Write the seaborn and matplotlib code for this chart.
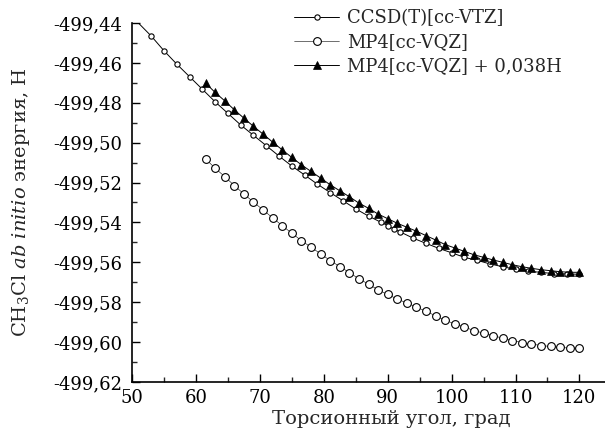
import matplotlib
matplotlib.use("Agg")
import matplotlib.pyplot as plt
from matplotlib.ticker import MultipleLocator, FuncFormatter
import seaborn as sns
import pandas as pd

# CCSD(T)[cc-VTZ]
ccsd_x = [50, 51, 53, 55, 57, 59, 61, 63, 65, 67, 69, 71, 73, 75, 77, 79, 81, 83, 85, 87, 89,
          90, 91, 92, 94, 96, 98, 100, 102, 104, 106, 108, 110, 112, 114, 116, 118, 120]
ccsd_y = [-499.4400, -499.4400, -499.4465, -499.4539, -499.4606, -499.4669, -499.4732, -499.4795,
          -499.4853, -499.4911, -499.4963, -499.5015, -499.5067, -499.5117, -499.5162, -499.5208,
          -499.5250, -499.5291, -499.5332, -499.5368, -499.5400, -499.5416, -499.5434, -499.5448,
          -499.5479, -499.5505, -499.5530, -499.5552, -499.5575, -499.5590, -499.5608, -499.5622,
          -499.5635, -499.5645, -499.5650, -499.5657, -499.5658, -499.5660]

# MP4[cc-VQZ]
mp4_x = [61.5 + 1.5 * i for i in range(40)]
mp4_y = [-499.5081, -499.5128, -499.5170, -499.5215, -499.5257, -499.5298, -499.5337, -499.5377,
         -499.5416, -499.5454, -499.5491, -499.5524, -499.5557, -499.5591, -499.5621, -499.5651,
         -499.5683, -499.5709, -499.5738, -499.5761, -499.5784, -499.5804, -499.5824, -499.5846,
         -499.5868, -499.5891, -499.5908, -499.5925, -499.5942, -499.5955, -499.5968, -499.5980,
         -499.5992, -499.6002, -499.6010, -499.6017, -499.6022, -499.6027, -499.6030, -499.6030]

shift = 0.038
mp4_shift_y = [v + shift for v in mp4_y]

labels = ["CCSD(T)[cc-VTZ]", "MP4[cc-VQZ]", "MP4[cc-VQZ] + 0,038H"]

sns.set_style("ticks")
plt.rcParams["font.family"] = ["DejaVu Serif"]
plt.rcParams["mathtext.fontset"] = "dejavuserif"
plt.rcParams["axes.unicode_minus"] = False

fig = plt.figure(figsize=(6.05, 4.36), dpi=100)
ax = fig.add_axes([132 / 605, 1 - 382 / 436, 1 - 132 / 605, (382 - 23) / 436])

df_ccsd = pd.DataFrame({"x": ccsd_x, "y": ccsd_y})
df_mp4 = pd.DataFrame({"x": mp4_x, "y": mp4_y})
df_shift = pd.DataFrame({"x": mp4_x, "y": mp4_shift_y})

sns.lineplot(data=df_ccsd, x="x", y="y", ax=ax, color="black", lw=0.7,
             marker="o", markersize=3.8, markerfacecolor="white", markeredgecolor="black",
             markeredgewidth=0.8, markevery=slice(2, None), label=labels[0])
sns.lineplot(data=df_mp4, x="x", y="y", ax=ax, color="black", lw=0.4,
             marker="o", markersize=5.6, markerfacecolor="white", markeredgecolor="black",
             markeredgewidth=0.8, label=labels[1])
sns.lineplot(data=df_shift, x="x", y="y", ax=ax, color="black", lw=0.7,
             marker="^", markersize=5.6, markerfacecolor="black", markeredgecolor="black",
             markeredgewidth=0.5, label=labels[2])

ax.set_xlim(50, 124)
ax.set_ylim(-499.62, -499.44)
ax.xaxis.set_major_locator(MultipleLocator(10))
ax.xaxis.set_minor_locator(MultipleLocator(5))
ax.yaxis.set_major_locator(MultipleLocator(0.02))
ax.yaxis.set_minor_locator(MultipleLocator(0.01))
ax.yaxis.set_major_formatter(FuncFormatter(lambda v, p: f"{v:.2f}".replace(".", ",")))
ax.set_xticks([50, 60, 70, 80, 90, 100, 110, 120])

ax.tick_params(which="major", direction="in", length=6, width=1.0, labelsize=13, colors="black")
ax.tick_params(which="minor", direction="in", length=3.5, width=1.0)
ax.tick_params(axis="x", pad=5)
ax.tick_params(axis="y", pad=7)

for side in ["top", "right"]:
    ax.spines[side].set_visible(False)
for side in ["left", "bottom"]:
    ax.spines[side].set_linewidth(1.2)
    ax.spines[side].set_color("black")

ax.set_xlabel("Торсионный угол, град", fontsize=14, va="center")
ax.xaxis.set_label_coords((391 - 132) / 473, -(419 - 382) / 359)
ax.set_ylabel("CH$_3$Cl $\\it{ab\\ initio}$ энергия, H", fontsize=14, va="center")
ax.yaxis.set_label_coords(-(132 - 21) / 473, 0.5)

ax.get_legend().remove()
handles, lbls = ax.get_legend_handles_labels()
fig.legend(handles, lbls, loc="upper left", bbox_to_anchor=(294 / 605, 1 - 9 / 436),
           frameon=False, fontsize=13, handlelength=2.5, handletextpad=0.45,
           labelspacing=0.33, borderpad=0, borderaxespad=0)

fig.savefig("out.png", dpi=100)
